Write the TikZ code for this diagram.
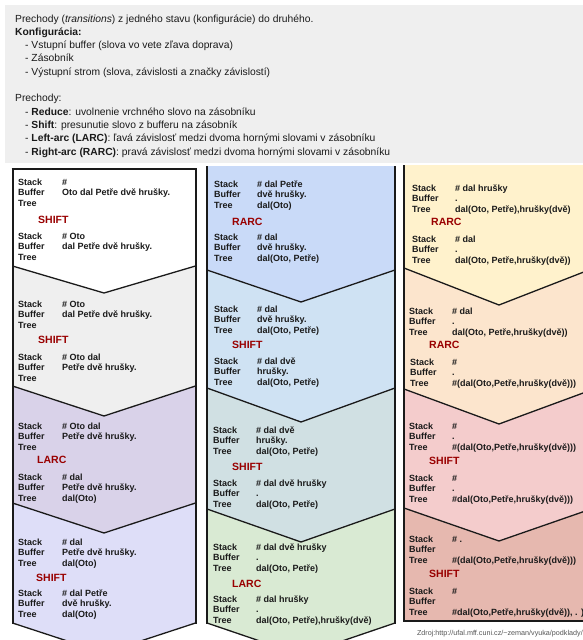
\documentclass[tikz,border=0pt]{standalone}
\usepackage{fontspec}
\setmainfont{Liberation Sans}
\definecolor{topgray}{HTML}{EFEFEF}
\definecolor{txt}{HTML}{1A1A1A}
\definecolor{opred}{HTML}{990000}
\definecolor{edge}{HTML}{1A1A1A}
\definecolor{srcgray}{HTML}{555555}
\definecolor{ca}{HTML}{FFFFFF}
\definecolor{cb}{HTML}{EFEFEF}
\definecolor{cc}{HTML}{D9D2E9}
\definecolor{cd}{HTML}{DEDEF8}
\definecolor{da}{HTML}{C9DAF8}
\definecolor{db}{HTML}{CFE2F3}
\definecolor{dc}{HTML}{D0E0E3}
\definecolor{dd}{HTML}{D9EAD3}
\definecolor{ea}{HTML}{FFF2CC}
\definecolor{eb}{HTML}{FCE5CD}
\definecolor{ec}{HTML}{F4CCCC}
\definecolor{ed}{HTML}{E6B8AF}
\tikzset{
  blk/.style={anchor=base west, inner sep=0pt, align=left, text=txt,
    font=\fontsize{9}{10.4}\selectfont\bfseries},
  opl/.style={anchor=base west, inner sep=0pt, text=opred,
    font=\fontsize{10.5}{12}\selectfont\bfseries},
  toptext/.style={anchor=base west, inner sep=0pt, align=left, text=txt,
    font=\fontsize{10.3}{13.3}\selectfont},
  chev/.style={draw=edge, line width=1.3pt, line join=miter},
  side/.style={draw=edge, line width=2pt},
}
% #3 = baseline of the first line; the node is placed by its last line
\newcommand{\stb}[7]{\node[blk] (#1) at (#2,{#3+20.8})
  {\makebox[#4pt][l]{Stack}#5\\\makebox[#4pt][l]{Buffer}#6\\\makebox[#4pt][l]{Tree}#7};}
\newcommand{\itm}{\hspace*{10pt}- }
\begin{document}
\begin{tikzpicture}[x=1pt,y=-1pt]
\useasboundingbox (0,0) rectangle (583,640);
% top box
\fill[topgray] (5,5) rectangle (595,163);
\node[toptext] (intro) at (15,155) {%
Prechody (\textit{transitions}) z jedného stavu (konfigurácie) do druhého.\\
\textbf{Konfigurácia:}\\
\itm Vstupní buffer (slova vo vete zľava doprava)\\
\itm Zásobník\\
\itm Výstupní strom (slova, závislosti a značky závislostí)\\
\mbox{}\\
Prechody:\\
\itm \textbf{Reduce}: uvolnenie vrchného slovo na zásobníku\\
\itm \textbf{Shift}: presunutie slovo z bufferu na zásobník\\
\itm \textbf{Left-arc (LARC)}: ľavá závislosť medzi dvoma hornými slovami v zásobníku\\
\itm \textbf{Right-arc (RARC)}: pravá závislosť medzi dvoma hornými slovami v zásobníku};
% ---------- column 1
\fill[ca] (12.5,169) -- (195.5,169) -- (195.5,266) -- (104,293) -- (12.5,266) -- cycle;
\fill[cb] (12.5,266) -- (104,293) -- (195.5,266) -- (195.5,386) -- (104,416) -- (12.5,386) -- cycle;
\fill[cc] (12.5,386) -- (104,416) -- (195.5,386) -- (195.5,503) -- (104,533) -- (12.5,503) -- cycle;
\fill[cd] (12.5,503) -- (104,533) -- (195.5,503) -- (195.5,623) -- (104,653) -- (12.5,623) -- cycle;
\draw[chev] (12.5,266) -- (104,293) -- (195.5,266);
\draw[chev] (12.5,386) -- (104,416) -- (195.5,386);
\draw[chev] (12.5,503) -- (104,533) -- (195.5,503);
\draw[chev] (12.5,623) -- (104,653) -- (195.5,623);
\draw[side] (12.5,168) -- (12.5,624);
\draw[side] (195.5,168) -- (195.5,624);
\draw[side] (11.5,169) -- (196.5,169);
% ---------- column 2
\fill[da] (207,166) -- (395,166) -- (395,270) -- (301,302) -- (207,270) -- cycle;
\fill[db] (207,270) -- (301,302) -- (395,270) -- (395,388) -- (301,422) -- (207,388) -- cycle;
\fill[dc] (207,388) -- (301,422) -- (395,388) -- (395,509) -- (301,542) -- (207,509) -- cycle;
\fill[dd] (207,509) -- (301,542) -- (395,509) -- (395,623) -- (301,655) -- (207,623) -- cycle;
\draw[chev] (207,270) -- (301,302) -- (395,270);
\draw[chev] (207,388) -- (301,422) -- (395,388);
\draw[chev] (207,509) -- (301,542) -- (395,509);
\draw[chev] (207,623) -- (301,655) -- (395,623);
\draw[side] (207,166) -- (207,624);
\draw[side] (395,166) -- (395,624);
% ---------- column 3
\fill[ea] (404,165) -- (594,165) -- (594,268) -- (499,305) -- (404,268) -- cycle;
\fill[eb] (404,268) -- (499,305) -- (594,268) -- (594,389) -- (499,424) -- (404,389) -- cycle;
\fill[ec] (404,389) -- (499,424) -- (594,389) -- (594,508) -- (499,541) -- (404,508) -- cycle;
\fill[ed] (404,508) -- (499,541) -- (594,508) -- (594,621) -- (404,621) -- cycle;
\draw[chev] (404,268) -- (499,305) -- (594,268);
\draw[chev] (404,389) -- (499,424) -- (594,389);
\draw[chev] (404,508) -- (499,541) -- (594,508);
\draw[side] (404,165) -- (404,622);
\draw[side] (403,621) -- (595,621);
% ---------- column 1 texts
\stb{a1}{18}{185.2}{44}{\#}{Oto dal Petře dvě hrušky.}{}
\node[opl] (a1o) at (38,223.7) {SHIFT};
\stb{a1b}{18}{239.2}{44}{\# Oto}{dal Petře dvě hrušky.}{}
\stb{a2}{18}{307.2}{44}{\# Oto}{dal Petře dvě hrušky.}{}
\node[opl] (a2o) at (38,343.7) {SHIFT};
\stb{a2b}{18}{360.2}{44}{\# Oto dal}{Petře dvě hrušky.}{}
\stb{a3}{18}{429.2}{44}{\# Oto dal}{Petře dvě hrušky.}{}
\node[opl] (a3o) at (37,463.7) {LARC};
\stb{a3b}{18}{480.2}{44}{\# dal}{Petře dvě hrušky.}{dal(Oto)}
\stb{a4}{18}{545.2}{44}{\# dal}{Petře dvě hrušky.}{dal(Oto)}
\node[opl] (a4o) at (36,581.7) {SHIFT};
\stb{a4b}{18}{596.2}{44}{\# dal Petře}{dvě hrušky.}{dal(Oto)}
% ---------- column 2 texts
\stb{b1}{214}{187.2}{43}{\# dal Petře}{dvě hrušky.}{dal(Oto)}
\node[opl] (b1o) at (232,225.7) {RARC};
\stb{b1b}{214}{240.2}{43}{\# dal}{dvě hrušky.}{dal(Oto, Petře)}
\stb{b2}{214}{312.2}{43}{\# dal}{dvě hrušky.}{dal(Oto, Petře)}
\node[opl] (b2o) at (232,348.7) {SHIFT};
\stb{b2b}{214}{364.2}{43}{\# dal dvě}{hrušky.}{dal(Oto, Petře)}
\stb{b3}{213}{433.2}{43}{\# dal dvě}{hrušky.}{dal(Oto, Petře)}
\node[opl] (b3o) at (232,470.7) {SHIFT};
\stb{b3b}{213}{486.2}{43}{\# dal dvě hrušky}{.}{dal(Oto, Petře)}
\stb{b4}{213}{550.2}{43}{\# dal dvě hrušky}{.}{dal(Oto, Petře)}
\node[opl] (b4o) at (232,587.7) {LARC};
\stb{b4b}{213}{602.2}{43}{\# dal hrušky}{.}{dal(Oto, Petře),hrušky(dvě)}
% ---------- column 3 texts
\stb{c1}{412}{191.2}{43}{\# dal hrušky}{.}{dal(Oto, Petře),hrušky(dvě)}
\node[opl] (c1o) at (431,225.7) {RARC};
\stb{c1b}{412}{242.2}{43}{\# dal}{.}{dal(Oto, Petře,hrušky(dvě))}
\stb{c2}{409}{314.2}{43}{\# dal}{.}{dal(Oto, Petře,hrušky(dvě))}
\node[opl] (c2o) at (429,348.7) {RARC};
\stb{c2b}{410}{365.2}{42}{\#}{.}{\#(dal(Oto,Petře,hrušky(dvě)))}
\stb{c3}{409}{429.2}{43}{\#}{.}{\#(dal(Oto,Petře,hrušky(dvě)))}
\node[opl] (c3o) at (429,464.7) {SHIFT};
\stb{c3b}{409}{481.2}{43}{\#}{.}{\#dal(Oto,Petře,hrušky(dvě)))}
\stb{c4}{409}{542.2}{43}{\# .}{}{\#(dal(Oto,Petře,hrušky(dvě)))}
\node[opl] (c4o) at (429,577.7) {SHIFT};
\stb{c4b}{409}{594.2}{43}{\#}{}{\#dal(Oto,Petře,hrušky(dvě)), . )}
% source
\node[anchor=base east, inner sep=0pt, text=srcgray, font=\fontsize{7.2}{8}\selectfont] (src) at (583,635.5) {Zdroj:http://ufal.mff.cuni.cz/\string~zeman/vyuka/podklady/};
\end{tikzpicture}
\end{document}
